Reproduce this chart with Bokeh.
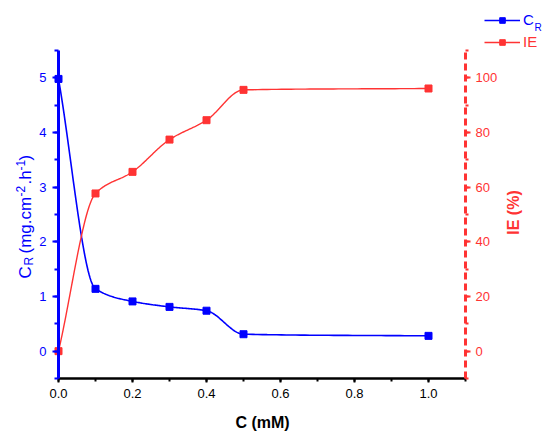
import numpy as np
from math import pi
from bokeh.plotting import figure
from bokeh.models import (Range1d, LinearAxis, SingleIntervalTicker, Label,
                          Legend, LegendItem, PrintfTickFormatter)
from bokeh.embed import file_html
from bokeh.resources import INLINE

# ---- data ----
conc = [0.0, 0.1, 0.2, 0.3, 0.4, 0.5, 1.0]          # C (mM)
cr = [4.98, 1.14, 0.91, 0.81, 0.74, 0.31, 0.28]      # C_R (mg.cm-2.h-1)
ie = [0.0, 57.7, 65.6, 77.4, 84.5, 95.6, 96.1]       # IE (%)
x_lim = (0.0, 1.1)
cr_lim = (-0.5, 5.5)
ie_lim = (-10.0, 110.0)

BLUE = "#0000FF"
RED = "#FF3333"
FONT = "Liberation Sans"

# ---- layout (pixels) ----
W, H = 548, 435
FL, FR, FT, FB = 58, 465, 50, 378   # plotting area edges in the picture


def pchip_curve(x, y, n=40):
    """Smooth monotone (PCHIP) connection of the data points for drawing."""
    x = np.asarray(x, float)
    y = np.asarray(y, float)
    h = np.diff(x)
    d = np.diff(y) / h
    m = np.zeros_like(y)
    m[0], m[-1] = d[0], d[-1]
    for k in range(1, len(x) - 1):
        if d[k - 1] * d[k] <= 0:
            m[k] = 0.0
        else:
            w1 = 2 * h[k] + h[k - 1]
            w2 = h[k] + 2 * h[k - 1]
            m[k] = (w1 + w2) / (w1 / d[k - 1] + w2 / d[k])
    xs, ys = [], []
    for k in range(len(x) - 1):
        t = np.linspace(0, 1, n, endpoint=(k == len(x) - 2))
        h00 = 2 * t**3 - 3 * t**2 + 1
        h10 = t**3 - 2 * t**2 + t
        h01 = -2 * t**3 + 3 * t**2
        h11 = t**3 - t**2
        xs.extend(x[k] + t * h[k])
        ys.extend(h00 * y[k] + h10 * h[k] * m[k] + h01 * y[k + 1] + h11 * h[k] * m[k + 1])
    return xs, ys


def padded(lim, p_lo, p_hi, span_px):
    per = (lim[1] - lim[0]) / span_px
    return Range1d(lim[0] - p_lo * per, lim[1] + p_hi * per)


xr = padded(x_lim, FL, W - FR, FR - FL)
yr = padded(cr_lim, H - FB, FT, FB - FT)
ier = padded(ie_lim, H - FB, FT, FB - FT)

p = figure(width=W, height=H, x_range=xr, y_range=yr,
           output_backend="svg", toolbar_location=None,
           min_border=0, min_border_left=0, min_border_right=0,
           min_border_top=0, min_border_bottom=0)
p.extra_y_ranges = {"ie": ier}
p.grid.visible = False
p.outline_line_color = None
p.background_fill_color = "white"
p.border_fill_color = "white"


def style_axis(ax, color, lw, major_out, minor_out, standoff):
    ax.axis_line_color = color
    ax.axis_line_width = lw
    ax.major_tick_line_color = color
    ax.major_tick_line_width = 2
    ax.major_tick_out = major_out
    ax.major_tick_in = 0
    ax.minor_tick_line_color = color
    ax.minor_tick_line_width = 2
    ax.minor_tick_out = minor_out
    ax.minor_tick_in = 0
    ax.major_label_text_font = FONT
    ax.major_label_text_font_size = "13px"
    ax.major_label_text_color = color
    ax.major_label_standoff = standoff


# x axis
xa = p.xaxis[0]
xa.ticker = SingleIntervalTicker(interval=0.2, num_minor_ticks=2)
xa.formatter = PrintfTickFormatter(format="%.1f")
xa.fixed_location = cr_lim[0]
xa.bounds = x_lim
style_axis(xa, "black", 2.5, 4, 3, 6)

# left axis
ya = p.yaxis[0]
ya.ticker = SingleIntervalTicker(interval=1, num_minor_ticks=2)
ya.fixed_location = x_lim[0]
ya.bounds = cr_lim
style_axis(ya, BLUE, 3, 6, 4, 6)

# right axis
ra = LinearAxis(y_range_name="ie", ticker=SingleIntervalTicker(interval=20, num_minor_ticks=2),
                fixed_location=x_lim[1], bounds=ie_lim)
style_axis(ra, RED, 3, 5, 3, 5)
ra.axis_line_dash = "7 4"
p.add_layout(ra, "right")

# curves and markers
bx, by = pchip_curve(conc, cr)
rx, ry = pchip_curve(conc, ie)
bline = p.line(bx, by, line_color=BLUE, line_width=1.6)
bsc = p.scatter(conc, cr, marker="square", size=7, color=BLUE)
rline = p.line(rx, ry, line_color=RED, line_width=1.4, y_range_name="ie")
rsc = p.scatter(conc, ie, marker="square", size=7, color=RED, y_range_name="ie")


# legends
def make_legend(label, rends, loc, color):
    lg = Legend(items=[LegendItem(label=label, renderers=rends)], location=loc,
                orientation="vertical", padding=0, margin=0, spacing=0,
                glyph_width=36, glyph_height=14, label_height=14, label_standoff=3,
                label_text_font=FONT, label_text_font_size="15px",
                label_text_color=color, border_line_color=None,
                background_fill_alpha=0)
    p.add_layout(lg)


make_legend("C", [bline, bsc], (484, H - 28), BLUE)
make_legend("IE", [rline, rsc], (484, H - 50), RED)
p.add_layout(Label(x=534, y=H - 26.5, x_units="screen", y_units="screen", text="R",
                   text_font=FONT, text_font_size="10px", text_color=BLUE,
                   text_align="left", text_baseline="middle"))


# left axis title, drawn piece by piece (subscript / superscripts)
def vlabel(text, start_py, base_px, size, color=BLUE, style="normal"):
    p.add_layout(Label(x=base_px, y=H - start_py, x_units="screen", y_units="screen",
                       text=text, angle=pi / 2, text_font=FONT, text_font_size=size,
                       text_font_style=style, text_color=color,
                       text_align="left", text_baseline="alphabetic"))


vlabel("C", 278, 25, "17px")
vlabel("R", 265, 28, "12px")
vlabel("(mg.cm", 253, 25, "17px")
vlabel("-2", 196, 19.5, "12px")
vlabel(".h", 184, 25, "17px")
vlabel("-1", 170, 19.5, "12px")
vlabel(")", 160, 25, "17px")

p.add_layout(Label(x=513, y=H - 212, x_units="screen", y_units="screen", text="IE (%)",
                   angle=pi / 2, text_font=FONT, text_font_size="16px", text_font_style="bold",
                   text_color=RED, text_align="center", text_baseline="middle"))
p.add_layout(Label(x=262, y=H - 422, x_units="screen", y_units="screen", text="C (mM)",
                   text_font=FONT, text_font_size="16px", text_font_style="bold",
                   text_color="black", text_align="center", text_baseline="middle"))

open("out.html", "w").write(file_html(p, INLINE))
